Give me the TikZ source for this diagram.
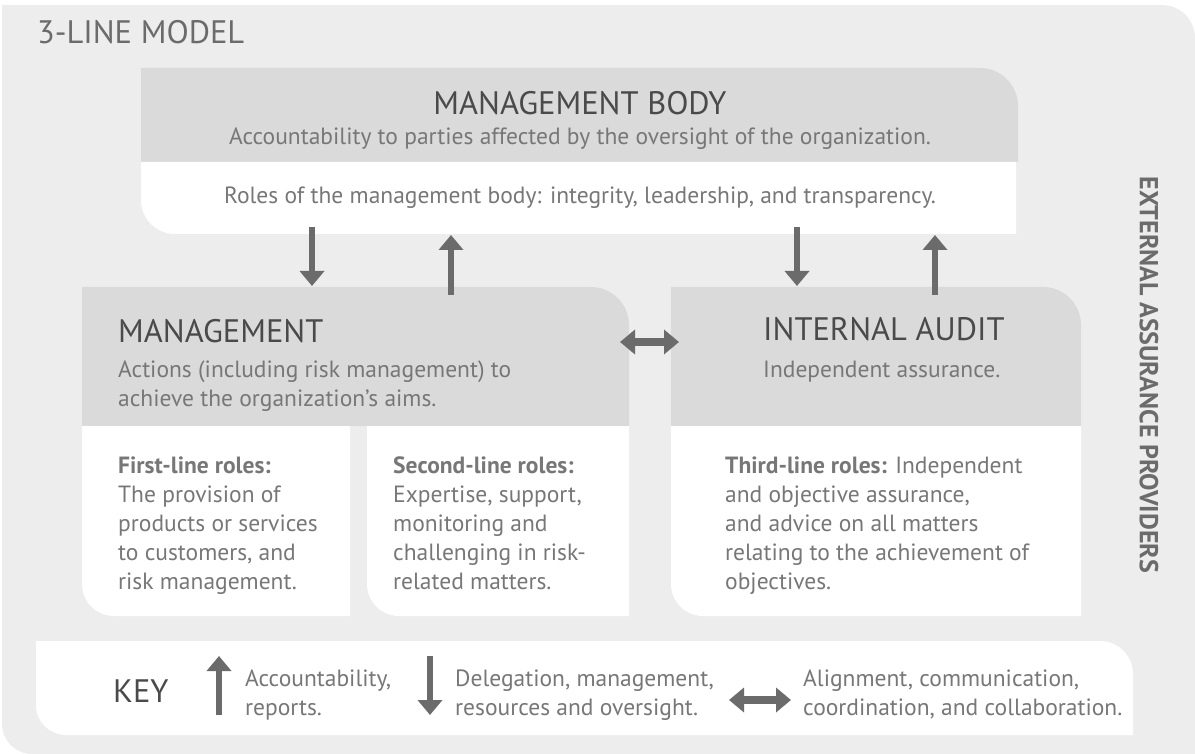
\documentclass[tikz,border=0pt]{standalone}
\usepackage{fontspec}
\setmainfont{PT Sans}
\usetikzlibrary{arrows.meta, calc, positioning}

\definecolor{bgGray}{HTML}{EDEDED}
\definecolor{boxGray}{HTML}{DADADA}
\definecolor{headGray}{HTML}{4A4A4A}
\definecolor{textGray}{HTML}{777777}
\definecolor{arrowGray}{HTML}{6B6B6B}

\begin{document}
\begin{tikzpicture}[x=1pt, y=-1pt,
  headtext/.style={inner sep=0pt, text=headGray, font=\fontsize{32.5}{36}\selectfont},
  bodytext/.style={inner sep=0pt, text=textGray, font=\fontsize{23.5}{29}\selectfont, align=left},
  flowarrow/.style={draw=arrowGray, line width=6pt, -{Triangle[width=24pt,length=15pt]}},
  twoway/.style={draw=arrowGray, line width=8pt, {Triangle[width=24pt,length=15pt]}-{Triangle[width=24pt,length=15pt]}}]
  \useasboundingbox (0,0) rectangle (1195,754);

  % background
  \fill[bgGray] (2,5) -- (1162,5) arc[start angle=-90, end angle=0, radius=33] -- (1195,754) -- (32,754) arc[start angle=90, end angle=180, radius=30] -- cycle;

  % management body
  \fill[boxGray] (141,162) -- (141,68) -- (980,68) arc[start angle=-90, end angle=0, radius=38] -- (1018,162) -- cycle;
  \fill[white] (141,162) -- (1016,162) -- (1016,234) -- (175,234) arc[start angle=90, end angle=180, radius=34] -- cycle;

  % management and its two columns
  \fill[boxGray] (82,426) -- (82,287) -- (591,287) arc[start angle=-90, end angle=0, radius=38] -- (629,426) -- cycle;
  \fill[white] (82,426) -- (350,426) -- (350,616) -- (114,616) arc[start angle=90, end angle=180, radius=32] -- cycle;
  \fill[white] (367,426) -- (629,426) -- (629,616) -- (399,616) arc[start angle=90, end angle=180, radius=32] -- cycle;

  % internal audit
  \fill[boxGray] (671,426) -- (671,287) -- (1043,287) arc[start angle=-90, end angle=0, radius=38] -- (1081,426) -- cycle;
  \fill[white] (671,426) -- (1081,426) -- (1081,616) -- (703,616) arc[start angle=90, end angle=180, radius=32] -- cycle;

  % key
  \fill[white] (36,641) -- (1100,641) arc[start angle=-90, end angle=0, radius=33] -- (1133,735) -- (66,735) arc[start angle=90, end angle=180, radius=30] -- cycle;

  % texts (multi-line nodes sit on the baseline of their last line)
  \node[headtext, anchor=base west, text=arrowGray] (Title) at (37,44) {3-LINE MODEL};
  \node[headtext, anchor=base] (BodyHead) at (580,115) {MANAGEMENT BODY};
  \node[bodytext, anchor=base] (BodySub) at (580,145) {Accountability to parties affected by the oversight of the organization.};
  \node[bodytext, anchor=base] (BodyRoles) at (580,204) {Roles of the management body: integrity, leadership, and transparency.};

  \node[headtext, anchor=base west] (MgmtHead) at (118,342) {MANAGEMENT};
  \node[bodytext, anchor=base west] (MgmtSub) at (118,406) {Actions (including risk management) to\\achieve the organization's aims.};
  \node[bodytext, anchor=base west] (FirstLine) at (118,589) {\textbf{First-line roles:}\\The provision of\\products or services\\to customers, and\\risk management.};
  \node[bodytext, anchor=base west] (SecondLine) at (393,589) {\textbf{Second-line roles:}\\Expertise, support,\\monitoring and\\challenging in risk-\\related matters.};

  \node[headtext, anchor=base west] (AuditHead) at (763,341) {INTERNAL AUDIT};
  \node[bodytext, anchor=base west] (AuditSub) at (763,377) {Independent assurance.};
  \node[bodytext, anchor=base west] (ThirdLine) at (725,589) {\textbf{Third-line roles:} Independent\\and objective assurance,\\and advice on all matters\\relating to the achievement of\\objectives.};

  \node[bodytext, rotate=-90, anchor=center, text=arrowGray, font=\fontsize{26}{30}\selectfont\bfseries] (External) at (1149,375) {EXTERNAL ASSURANCE PROVIDERS};

  \node[headtext, anchor=base west, text=headGray] (Key) at (113,702) {KEY};
  \node[bodytext, anchor=base west] (KeyUp) at (245,715) {Accountability,\\reports.};
  \node[bodytext, anchor=base west] (KeyDown) at (455,715) {Delegation, management,\\resources and oversight.};
  \node[bodytext, anchor=base west] (KeyBoth) at (803,715) {Alignment, communication,\\coordination, and collaboration.};

  % arrow ends
  \coordinate (DownLeftTop) at (312,227);
  \coordinate (DownLeftTip) at (312,286);
  \coordinate (UpLeftTail) at (451,295);
  \coordinate (UpLeftTip) at (451,235);
  \coordinate (DownRightTop) at (797,227);
  \coordinate (DownRightTip) at (797,286);
  \coordinate (UpRightTail) at (935,295);
  \coordinate (UpRightTip) at (935,235);
  \coordinate (MgmtEdge) at (620,342);
  \coordinate (AuditEdge) at (679,342);
  \coordinate (KeyUpTail) at (219,715);
  \coordinate (KeyUpTip) at (219,656);
  \coordinate (KeyDownTop) at (430,656);
  \coordinate (KeyDownTip) at (430,715);
  \coordinate (KeyBothLeft) at (729,700);
  \coordinate (KeyBothRight) at (791,700);

  \draw[flowarrow] (DownLeftTop) -- (DownLeftTip);
  \draw[flowarrow] (UpLeftTail) -- (UpLeftTip);
  \draw[flowarrow] (DownRightTop) -- (DownRightTip);
  \draw[flowarrow] (UpRightTail) -- (UpRightTip);
  \draw[twoway] (MgmtEdge) -- (AuditEdge);
  \draw[flowarrow] (KeyUpTail) -- (KeyUpTip);
  \draw[flowarrow] (KeyDownTop) -- (KeyDownTip);
  \draw[twoway] (KeyBothLeft) -- (KeyBothRight);
\end{tikzpicture}
\end{document}
